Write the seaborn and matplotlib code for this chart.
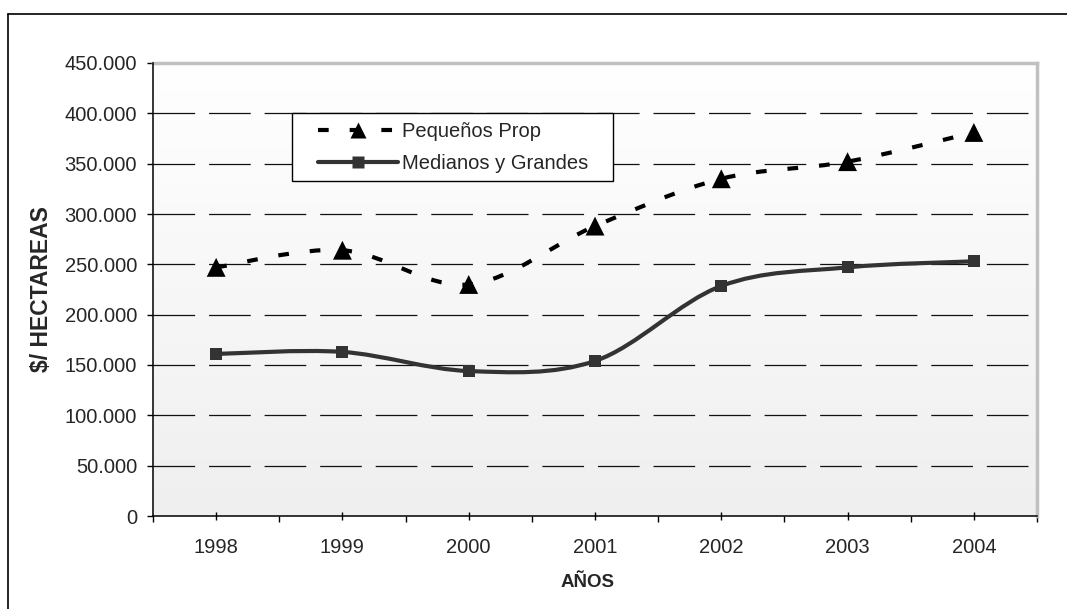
import numpy as np
import pandas as pd
import matplotlib
matplotlib.use("Agg")
import matplotlib.pyplot as plt
import seaborn as sns
from matplotlib.path import Path
from matplotlib.patches import PathPatch, Rectangle
from matplotlib.lines import Line2D
from matplotlib.ticker import FuncFormatter, FixedLocator

# ---------------- data ----------------
years = ["1998", "1999", "2000", "2001", "2002", "2003", "2004"]
pequenos = [247000, 264000, 230000, 288000, 335000, 352000, 381000]
medianos = [161000, 163000, 144000, 154000, 228500, 247000, 253000]
series_names = ["Pequeños Prop", "Medianos y Grandes"]
y_ticks = [0, 50000, 100000, 150000, 200000, 250000, 300000, 350000, 400000, 450000]

sns.set_style("white")
plt.rcParams["font.family"] = ["Liberation Sans", "DejaVu Sans"]
plt.rcParams["lines.scale_dashes"] = False

df = pd.DataFrame({
    "pos": list(range(len(years))) * 2,
    "value": pequenos + medianos,
    "serie": [series_names[0]] * len(years) + [series_names[1]] * len(years),
})

W, H = 1067, 609
fig = plt.figure(figsize=(W / 100, H / 100), dpi=100)
L, R, T, B = 153 / W, 1037 / W, 1 - 63 / H, 1 - 516 / H
ax = fig.add_axes([L, B, R - L, T - B])
axw, axh = 1037 - 153, 516 - 63

xmin, xmax = -0.5, len(years) - 0.5
ymin, ymax = 0, 450000
ax.set_xlim(xmin, xmax)
ax.set_ylim(ymin, ymax)

# gradient background
grad = np.linspace(1.0, 0.0, 256).reshape(-1, 1)
ax.imshow(grad, extent=[xmin, xmax, ymin, ymax], aspect="auto",
          cmap=matplotlib.colors.LinearSegmentedColormap.from_list(
              "g", ["#efefef", "#ffffff"]),
          vmin=0, vmax=1, zorder=0, origin="upper")

# grid lines
for v in y_ticks[1:-1]:
    ax.axhline(v, color="#111111", lw=0.9, linestyle=(0, (30, 10)), zorder=1)


def smooth_path(xs, ys):
    xs = np.asarray(xs, float)
    ys = np.asarray(ys, float)
    n = len(xs)
    verts = [(xs[0], ys[0])]
    codes = [Path.MOVETO]
    for i in range(n - 1):
        i0 = max(i - 1, 0)
        i3 = min(i + 2, n - 1)
        c1 = (xs[i] + (xs[i + 1] - xs[i0]) / 6, ys[i] + (ys[i + 1] - ys[i0]) / 6)
        c2 = (xs[i + 1] - (xs[i3] - xs[i]) / 6, ys[i + 1] - (ys[i3] - ys[i]) / 6)
        verts += [c1, c2, (xs[i + 1], ys[i + 1])]
        codes += [Path.CURVE4] * 3
    return Path(verts, codes)


pos = np.arange(len(years))
dash_p = (0, (7.7, 15.1))
ax.add_patch(PathPatch(smooth_path(pos, pequenos), fill=False, ec="#000000",
                       lw=3.0, linestyle=dash_p, capstyle="butt", zorder=3))
ax.add_patch(PathPatch(smooth_path(pos, medianos), fill=False, ec="#333333",
                       lw=3.0, linestyle="-", capstyle="round", zorder=3))

sns.scatterplot(data=df[df.serie == series_names[0]], x="pos", y="value",
                marker="^", s=185, color="#000000", edgecolor="none",
                ax=ax, legend=False, zorder=4)
sns.scatterplot(data=df[df.serie == series_names[1]], x="pos", y="value",
                marker="s", s=76, color="#333333", edgecolor="none",
                ax=ax, legend=False, zorder=4)

# axes styling
for s in ["top", "right"]:
    ax.spines[s].set_color("#c0c0c0")
    ax.spines[s].set_linewidth(2.5)
for s in ["left", "bottom"]:
    ax.spines[s].set_color("#000000")
    ax.spines[s].set_linewidth(1.1)
    ax.spines[s].set_zorder(5)

FS = 14.5
ax.yaxis.set_major_locator(FixedLocator(y_ticks))
ax.yaxis.set_major_formatter(FuncFormatter(lambda v, p: f"{int(v):,}".replace(",", ".")))
ax.tick_params(axis="y", which="major", direction="out", length=4.5, width=1,
               color="#000000", pad=7, labelsize=FS, left=True)

ax.xaxis.set_major_locator(FixedLocator(pos))
ax.set_xticklabels(years)
ax.xaxis.set_minor_locator(FixedLocator(np.arange(xmin, xmax + 0.01, 1.0)))
ax.tick_params(axis="x", which="major", direction="inout", length=6, width=1,
               color="#000000", pad=13, labelsize=FS, bottom=True)
ax.tick_params(axis="x", which="minor", direction="out", length=4, width=1,
               color="#000000", bottom=True)

ax.set_xlabel("AÑOS", fontsize=13.5, fontweight="bold")
ax.set_ylabel("$/ HECTAREAS", fontsize=16.5, fontweight="bold")
ax.xaxis.set_label_coords((588 - 153) / axw, -0.128)
ax.yaxis.set_label_coords((42 - 153) / axw, 0.5)
ax.yaxis.label.set_va("center")

# legend frame
ax.add_patch(Rectangle(((292 - 153) / axw, (516 - 181) / axh), 321 / axw, 68 / axh,
                       transform=ax.transAxes, facecolor="#ffffff", edgecolor="#000000",
                       lw=1.0, zorder=6, clip_on=False))
handles = [
    Line2D([], [], color="#000000", lw=3.0, linestyle=(0, (7.7, 15.1)), dash_capstyle="butt",
           marker="^", markersize=11.5, markeredgecolor="none"),
    Line2D([], [], color="#333333", lw=3.0, linestyle="-",
           marker="s", markersize=9.3, markeredgecolor="none"),
]
leg = ax.legend(handles, series_names, loc="center left",
                bbox_to_anchor=((318 - 153) / axw, (516 - 147.5) / axh),
                borderaxespad=0, borderpad=0, fontsize=FS, frameon=False,
                handlelength=3.97, handletextpad=0.2, labelspacing=0.62)
leg.set_zorder(7)

# figure border (left and top)
fig.add_artist(Line2D([8 / W, 8 / W], [0, 1 - 14 / H], color="#000000", lw=1.2))
fig.add_artist(Line2D([8 / W, 1], [1 - 14 / H, 1 - 14 / H], color="#000000", lw=1.2))

fig.savefig("out.png", dpi=100)
